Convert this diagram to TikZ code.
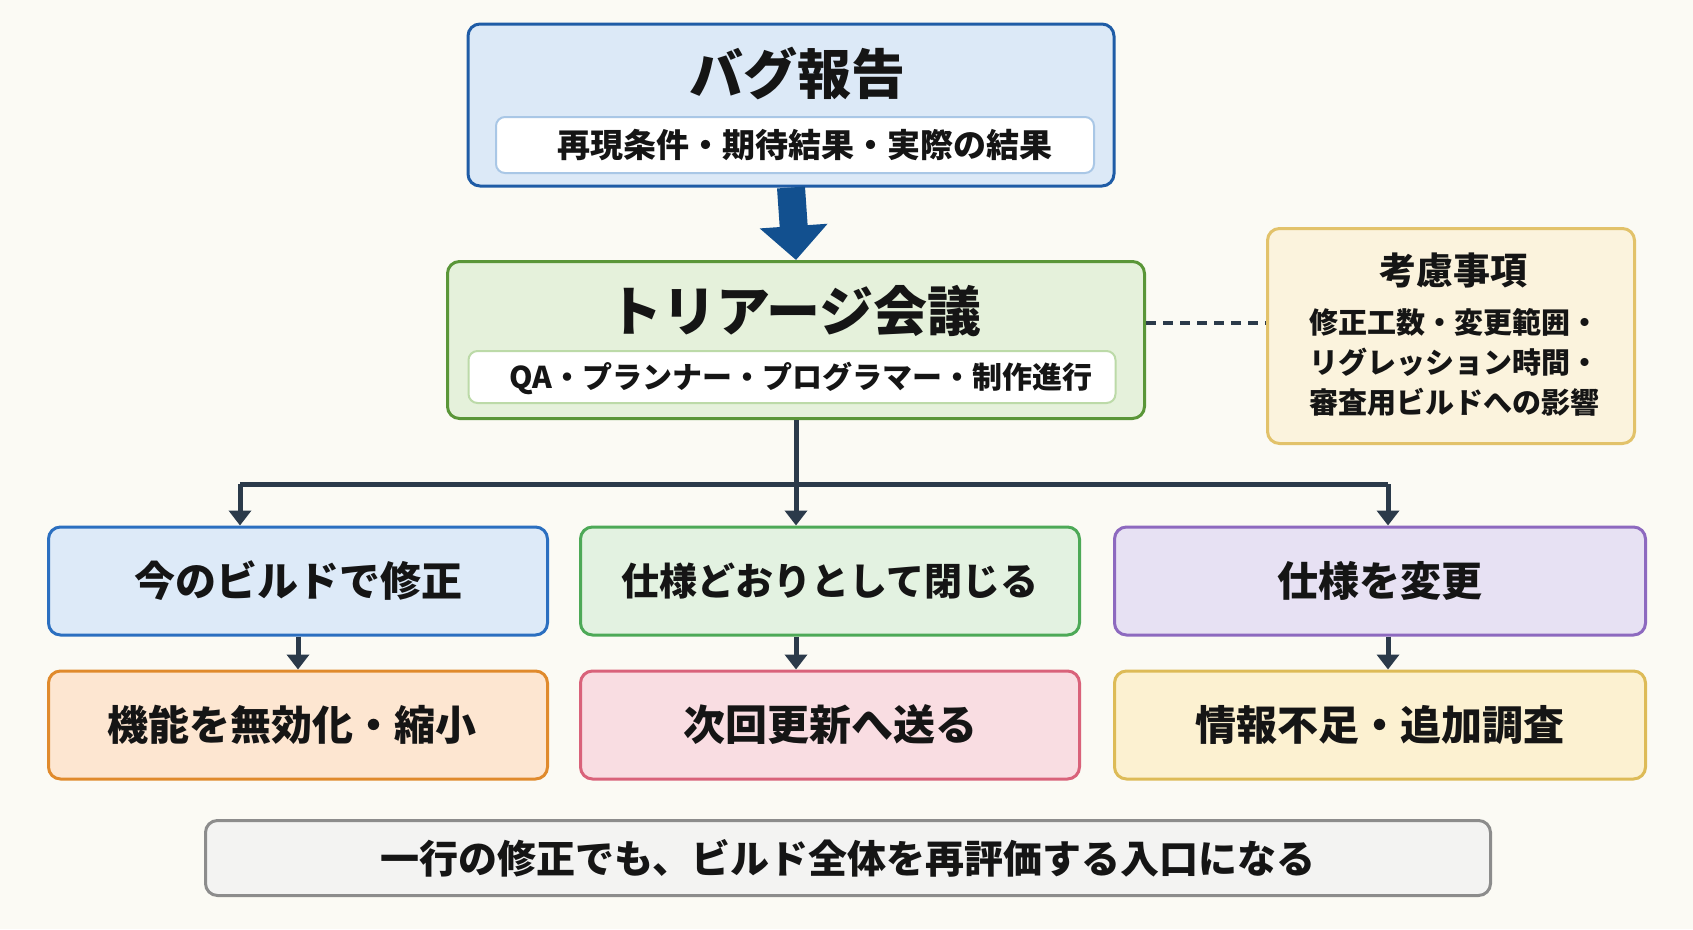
\documentclass[tikz,border=0pt]{standalone}
\usepackage{fontspec}
\setmainfont{Noto Sans CJK JP}
\usetikzlibrary{arrows.meta}

\definecolor{paper}{HTML}{FBFAF4}
\definecolor{ink}{HTML}{151515}
\definecolor{wire}{HTML}{2B3A4A}
\definecolor{navy}{HTML}{12508F}
\definecolor{bugfill}{HTML}{DCE9F7}
\definecolor{bugline}{HTML}{1F5CA6}
\definecolor{bugsubline}{HTML}{A9C7E6}
\definecolor{trifill}{HTML}{E5F1DB}
\definecolor{triline}{HTML}{5A9638}
\definecolor{trisubline}{HTML}{BCDAA8}
\definecolor{notefill}{HTML}{FBF3DD}
\definecolor{noteline}{HTML}{E2C26A}
\definecolor{bluefill}{HTML}{DDEAF8}
\definecolor{blueline}{HTML}{2B6FC0}
\definecolor{greenfill}{HTML}{E3F2E1}
\definecolor{greenline}{HTML}{4DA957}
\definecolor{purplefill}{HTML}{E7E1F3}
\definecolor{purpleline}{HTML}{8D69BF}
\definecolor{orangefill}{HTML}{FDE6D1}
\definecolor{orangeline}{HTML}{E08A2C}
\definecolor{pinkfill}{HTML}{F9DDE2}
\definecolor{pinkline}{HTML}{D9627A}
\definecolor{goldfill}{HTML}{FCF1D1}
\definecolor{goldline}{HTML}{DDBB57}
\definecolor{greyfill}{HTML}{F3F3F2}
\definecolor{greyline}{HTML}{8C8C8C}

\begin{document}
\begin{tikzpicture}[x=1pt, y=-1pt,
    panel/.style={draw, rounded corners=12pt, line width=3pt, inner sep=0pt},
    subpanel/.style={draw, fill=white, rounded corners=9pt, line width=2pt, inner sep=0pt},
    choice/.style={panel, minimum height=108pt, text=ink, font=\fontsize{41pt}{48pt}\selectfont\bfseries},
    link/.style={draw=wire, line width=5pt},
    linkarrow/.style={link, -{Triangle[width=22pt,length=15pt]}}]

    \fill[paper] (0,0) rectangle (1693,929);
    \useasboundingbox (0,0) rectangle (1693,929);

    \node[panel, fill=bugfill, draw=bugline, minimum width=646pt, minimum height=162pt] (bug) at (791,105) {};
    \node[subpanel, draw=bugsubline, minimum width=598pt, minimum height=56pt] (bugsub) at (795,145) {};
    \node[text=ink, font=\fontsize{54pt}{60pt}\selectfont\bfseries] (bugtitle) at (797,73) {バグ報告};
    \node[text=ink, font=\fontsize{33pt}{38pt}\selectfont\bfseries] (bugtext) at (805,145) {再現条件・期待結果・実際の結果};

    \node[panel, fill=trifill, draw=triline, minimum width=697pt, minimum height=157pt] (triage) at (796,340) {};
    \node[subpanel, draw=trisubline, minimum width=647pt, minimum height=52pt] (triagesub) at (792,377) {};
    \node[text=ink, font=\fontsize{54pt}{60pt}\selectfont\bfseries] (triagetitle) at (795,311) {トリアージ会議};
    \node[text=ink, font=\fontsize{30pt}{36pt}\selectfont\bfseries] (triagetext) at (801,378) {QA・プランナー・プログラマー・制作進行};

    \node[panel, fill=notefill, draw=noteline, minimum width=367pt, minimum height=215pt] (note) at (1451,336) {};
    \node[text=ink, font=\fontsize{37pt}{42pt}\selectfont\bfseries] (notetitle) at (1453,270) {考慮事項};
    \node[text=ink, align=center, font=\fontsize{29pt}{40pt}\selectfont\bfseries] (notetext) at (1454,362) {修正工数・変更範囲・\\リグレッション時間・\\審査用ビルドへの影響};

    \node[choice, fill=bluefill, draw=blueline, minimum width=499pt] (fixnow) at (298,581) {今のビルドで修正};
    \node[choice, fill=greenfill, draw=greenline, minimum width=499pt, font=\fontsize{38pt}{48pt}\selectfont\bfseries] (closespec) at (830,581) {仕様どおりとして閉じる};
    \node[choice, fill=purplefill, draw=purpleline, minimum width=531pt] (changespec) at (1380,581) {仕様を変更};

    \node[choice, fill=orangefill, draw=orangeline, minimum width=499pt] (disable) at (298,725) {};
    \node[text=ink, font=\fontsize{41pt}{48pt}\selectfont\bfseries] (disabletext) at (292,725) {機能を無効化・縮小};
    \node[choice, fill=pinkfill, draw=pinkline, minimum width=499pt, font=\fontsize{42pt}{48pt}\selectfont\bfseries] (nextup) at (830,725) {次回更新へ送る};
    \node[choice, fill=goldfill, draw=goldline, minimum width=531pt] (moreinfo) at (1380,725) {情報不足・追加調査};

    \node[panel, fill=greyfill, draw=greyline, minimum width=1285pt, minimum height=75pt, text=ink, font=\fontsize{39pt}{44pt}\selectfont\bfseries] (summary) at (848,858) {一行の修正でも、ビルド全体を再評価する入口になる};

    \coordinate (hubleft) at (240,484);
    \coordinate (hubright) at (1388,484);

    \draw[draw=navy, line width=28pt, -{Triangle[width=66pt,length=34pt]}] (bug.south) -- (triage.north);
    \draw[link, dash pattern=on 10pt off 7pt, line width=4pt] ([yshift=17pt]triage.east) -- ([yshift=17pt]triage.east -| note.west);

    \draw[link] (triage.south) -- (triage.south |- hubleft);
    \draw[link] (hubleft) -- (hubright);
    \draw[linkarrow] (hubleft) -- (hubleft |- fixnow.north);
    \draw[linkarrow] (triage.south |- hubleft) -- (triage.south |- closespec.north);
    \draw[linkarrow] (hubright) -- (hubright |- changespec.north);

    \draw[linkarrow] (fixnow.south) -- (disable.north);
    \draw[linkarrow] (closespec.south -| triage.south) -- (nextup.north -| triage.south);
    \draw[linkarrow] (changespec.south -| hubright) -- (moreinfo.north -| hubright);
\end{tikzpicture}
\end{document}
